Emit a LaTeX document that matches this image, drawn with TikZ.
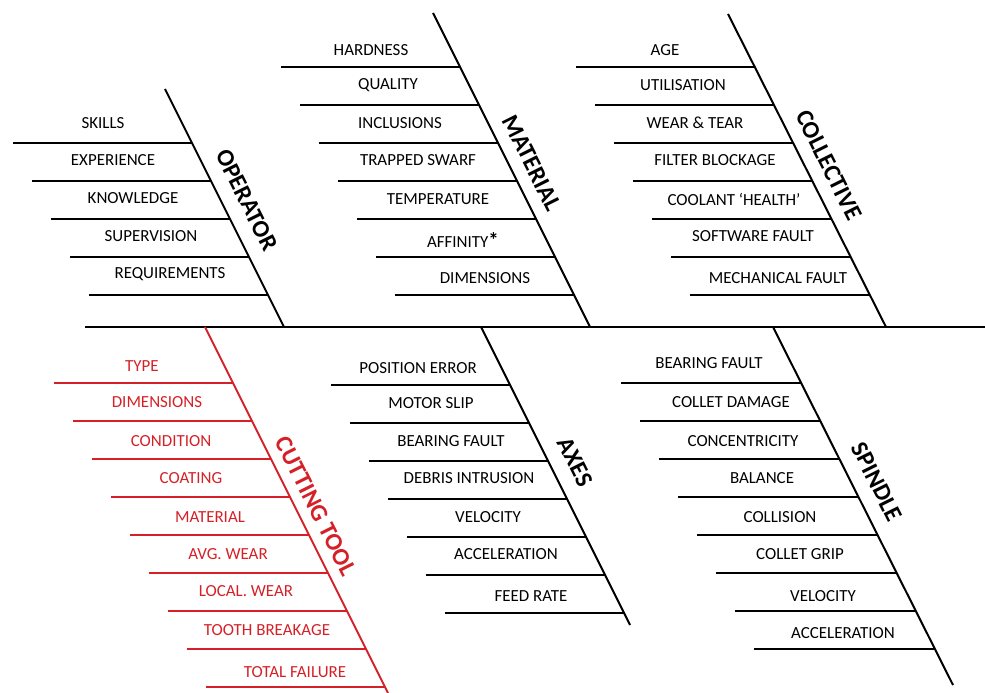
\documentclass[tikz,border=0pt]{standalone}
\usepackage{fontspec}
\setmainfont{Carlito}
\definecolor{toolred}{RGB}{212,32,38}
\begin{document}
\begin{tikzpicture}[line join=bevel,
  bone/.style={black,line width=2bp},
  rib/.style={black,line width=2bp},
  item/.style={draw=none,inner sep=0pt,font=\fontsize{17}{20}\selectfont},
  cause/.style={draw=none,inner sep=0pt,rotate=-63.43,font=\fontsize{24.5}{28}\selectfont\bfseries},
  redpart/.style={toolred},]
%%
\useasboundingbox (0bp,0bp) rectangle (985bp,693bp);
%% spine and upper bones
\coordinate (node_spine_l) at (85.0bp,366.0bp);
  \coordinate (node_spine_r) at (985.0bp,366.0bp);
  \coordinate (node_op_top) at (165.0bp,604.0bp);
  \coordinate (node_op_end) at (284.0bp,366.0bp);
  \coordinate (node_mat_top) at (433.0bp,680.0bp);
  \coordinate (node_mat_end) at (590.0bp,366.0bp);
  \coordinate (node_col_top) at (728.0bp,679.0bp);
  \coordinate (node_col_end) at (886.0bp,366.0bp);
  \coordinate (node_tool_top) at (205.0bp,366.0bp);
  \coordinate (node_tool_end) at (388.0bp,0.0bp);
  \coordinate (node_ax_top) at (481.0bp,366.0bp);
  \coordinate (node_ax_end) at (630.0bp,68.0bp);
  \coordinate (node_sp_top) at (773.0bp,366.0bp);
  \coordinate (node_sp_end) at (953.0bp,8.0bp);
  \draw [bone] (node_spine_l) -- (node_spine_r);
  \draw [bone] (node_op_top) -- (node_op_end);
  \draw [bone] (node_mat_top) -- (node_mat_end);
  \draw [bone] (node_col_top) -- (node_col_end);
  \draw [bone,redpart] (node_tool_top) -- (node_tool_end);
  \draw [bone] (node_ax_top) -- (node_ax_end);
  \draw [bone] (node_sp_top) -- (node_sp_end);
%% cause names
\node (node_operator) at (247.0bp,493.0bp) [cause] {OPERATOR};
  \node (node_material) at (532.0bp,530.0bp) [cause] {MATERIAL};
  \node (node_collective) at (829.0bp,528.0bp) [cause] {COLLECTIVE};
  \node (node_cuttingtool) at (316.0bp,187.0bp) [cause,redpart] {CUTTING TOOL};
  \node (node_axes) at (575.0bp,231.0bp) [cause] {AXES};
  \node (node_spindle) at (877.0bp,211.0bp) [cause] {SPINDLE};
%% operator
\draw [rib] (13.0bp,550.0bp) -- (192.0bp,550.0bp);
  \draw [rib] (32.0bp,512.0bp) -- (211.0bp,512.0bp);
  \draw [rib] (51.0bp,474.0bp) -- (230.0bp,474.0bp);
  \draw [rib] (70.0bp,436.0bp) -- (249.0bp,436.0bp);
  \draw [rib] (89.0bp,398.0bp) -- (268.0bp,398.0bp);
  \node (node_skills) at (103.0bp,570.0bp) [item] {SKILLS};
  \node (node_experience) at (113.0bp,533.0bp) [item] {EXPERIENCE};
  \node (node_knowledge) at (133.0bp,495.0bp) [item] {KNOWLEDGE};
  \node (node_supervision) at (151.0bp,457.0bp) [item] {SUPERVISION};
  \node (node_requirements) at (170.0bp,419.0bp) [item] {REQUIREMENTS};
%% material
\draw [rib] (281.0bp,626.0bp) -- (460.0bp,626.0bp);
  \draw [rib] (300.0bp,588.0bp) -- (479.0bp,588.0bp);
  \draw [rib] (319.0bp,550.0bp) -- (498.0bp,550.0bp);
  \draw [rib] (338.0bp,512.0bp) -- (517.0bp,512.0bp);
  \draw [rib] (357.0bp,474.0bp) -- (536.0bp,474.0bp);
  \draw [rib] (376.0bp,436.0bp) -- (555.0bp,436.0bp);
  \draw [rib] (395.0bp,398.0bp) -- (574.0bp,398.0bp);
  \node (node_hardness) at (371.0bp,643.0bp) [item] {HARDNESS};
  \node (node_quality) at (388.0bp,608.0bp) [item] {QUALITY};
  \node (node_inclusions) at (400.0bp,570.0bp) [item] {INCLUSIONS};
  \node (node_swarf) at (418.0bp,533.0bp) [item] {TRAPPED SWARF};
  \node (node_temperature) at (438.0bp,494.0bp) [item] {TEMPERATURE};
  \node (node_affinity) at (463.0bp,453.0bp) [item] {AFFINITY{\fontsize{21}{20}\selectfont\bfseries*}};
  \node (node_mat_dimensions) at (485.0bp,415.0bp) [item] {DIMENSIONS};
%% collective
\draw [rib] (576.0bp,626.0bp) -- (755.0bp,626.0bp);
  \draw [rib] (595.0bp,588.0bp) -- (774.0bp,588.0bp);
  \draw [rib] (614.0bp,550.0bp) -- (793.0bp,550.0bp);
  \draw [rib] (633.0bp,512.0bp) -- (812.0bp,512.0bp);
  \draw [rib] (652.0bp,474.0bp) -- (831.0bp,474.0bp);
  \draw [rib] (671.0bp,436.0bp) -- (850.0bp,436.0bp);
  \draw [rib] (690.0bp,398.0bp) -- (869.0bp,398.0bp);
  \node (node_age) at (665.0bp,643.0bp) [item] {AGE};
  \node (node_utilisation) at (683.0bp,608.0bp) [item] {UTILISATION};
  \node (node_wear) at (695.0bp,570.0bp) [item] {WEAR \& TEAR};
  \node (node_filter) at (715.0bp,533.0bp) [item] {FILTER BLOCKAGE};
  \node (node_coolant) at (734.0bp,494.0bp) [item] {COOLANT ‘HEALTH’};
  \node (node_software) at (753.0bp,457.0bp) [item] {SOFTWARE FAULT};
  \node (node_mechanical) at (778.0bp,415.0bp) [item] {MECHANICAL FAULT};
%% cutting tool
\draw [rib,redpart] (54.0bp,310.0bp) -- (233.0bp,310.0bp);
  \draw [rib,redpart] (73.0bp,272.0bp) -- (252.0bp,272.0bp);
  \draw [rib,redpart] (92.0bp,234.0bp) -- (271.0bp,234.0bp);
  \draw [rib,redpart] (111.0bp,196.0bp) -- (290.0bp,196.0bp);
  \draw [rib,redpart] (130.0bp,158.0bp) -- (309.0bp,158.0bp);
  \draw [rib,redpart] (149.0bp,120.0bp) -- (328.0bp,120.0bp);
  \draw [rib,redpart] (168.0bp,82.0bp) -- (347.0bp,82.0bp);
  \draw [rib,redpart] (187.0bp,44.0bp) -- (366.0bp,44.0bp);
  \draw [rib,redpart] (206.0bp,6.0bp) -- (385.0bp,6.0bp);
  \node (node_type) at (142.0bp,327.0bp) [item,redpart] {TYPE};
  \node (node_tool_dimensions) at (157.0bp,291.0bp) [item,redpart] {DIMENSIONS};
  \node (node_condition) at (171.0bp,252.0bp) [item,redpart] {CONDITION};
  \node (node_coating) at (191.0bp,215.0bp) [item,redpart] {COATING};
  \node (node_tool_material) at (210.0bp,176.0bp) [item,redpart] {MATERIAL};
  \node (node_avgwear) at (228.0bp,139.0bp) [item,redpart] {AVG. WEAR};
  \node (node_localwear) at (246.0bp,102.0bp) [item,redpart] {LOCAL. WEAR};
  \node (node_breakage) at (267.0bp,63.0bp) [item,redpart] {TOOTH BREAKAGE};
  \node (node_failure) at (295.0bp,21.0bp) [item,redpart] {TOTAL FAILURE};
%% axes
\draw [rib] (331.0bp,308.0bp) -- (510.0bp,308.0bp);
  \draw [rib] (350.0bp,270.0bp) -- (529.0bp,270.0bp);
  \draw [rib] (369.0bp,232.0bp) -- (548.0bp,232.0bp);
  \draw [rib] (388.0bp,194.0bp) -- (567.0bp,194.0bp);
  \draw [rib] (407.0bp,156.0bp) -- (586.0bp,156.0bp);
  \draw [rib] (426.0bp,118.0bp) -- (605.0bp,118.0bp);
  \draw [rib] (445.0bp,80.0bp) -- (624.0bp,80.0bp);
  \node (node_position) at (418.0bp,325.0bp) [item] {POSITION ERROR};
  \node (node_motorslip) at (431.0bp,290.0bp) [item] {MOTOR SLIP};
  \node (node_ax_bearing) at (451.0bp,252.0bp) [item] {BEARING FAULT};
  \node (node_debris) at (469.0bp,215.0bp) [item] {DEBRIS INTRUSION};
  \node (node_ax_velocity) at (488.0bp,176.0bp) [item] {VELOCITY};
  \node (node_ax_accel) at (506.0bp,139.0bp) [item] {ACCELERATION};
  \node (node_feedrate) at (531.0bp,97.0bp) [item] {FEED RATE};
%% spindle
\draw [rib] (621.0bp,310.0bp) -- (801.0bp,310.0bp);
  \draw [rib] (640.0bp,272.0bp) -- (820.0bp,272.0bp);
  \draw [rib] (659.0bp,234.0bp) -- (839.0bp,234.0bp);
  \draw [rib] (678.0bp,196.0bp) -- (858.0bp,196.0bp);
  \draw [rib] (697.0bp,158.0bp) -- (877.0bp,158.0bp);
  \draw [rib] (716.0bp,120.0bp) -- (896.0bp,120.0bp);
  \draw [rib] (735.0bp,82.0bp) -- (915.0bp,82.0bp);
  \draw [rib] (754.0bp,44.0bp) -- (934.0bp,44.0bp);
  \node (node_sp_bearing) at (709.0bp,330.0bp) [item] {BEARING FAULT};
  \node (node_collet) at (731.0bp,291.0bp) [item] {COLLET DAMAGE};
  \node (node_concentricity) at (743.0bp,252.0bp) [item] {CONCENTRICITY};
  \node (node_balance) at (762.0bp,215.0bp) [item] {BALANCE};
  \node (node_collision) at (780.0bp,176.0bp) [item] {COLLISION};
  \node (node_grip) at (800.0bp,139.0bp) [item] {COLLET GRIP};
  \node (node_sp_velocity) at (823.0bp,97.0bp) [item] {VELOCITY};
  \node (node_sp_accel) at (843.0bp,60.0bp) [item] {ACCELERATION};
%
\end{tikzpicture}
\end{document}
